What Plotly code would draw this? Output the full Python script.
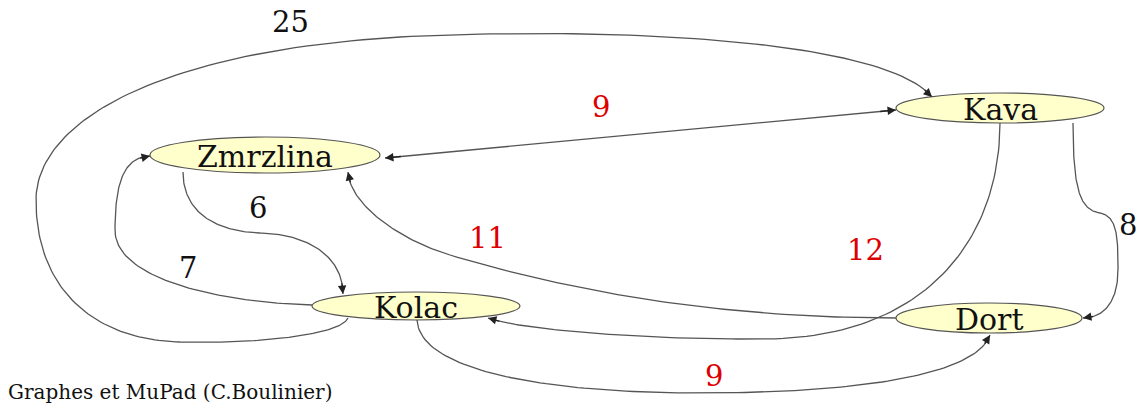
import numpy as np
import plotly.graph_objects as go

# ---- data ----
node_names = ["Zmrzlina", "Kava", "Kolac", "Dort"]
node_x = [265, 1000, 416, 989]
node_y = [155, 108, 306, 318]
node_rx = [115, 104, 104, 93]
node_ry = [18, 15, 14, 15]

edge_source = ["Kolac", "Zmrzlina", "Zmrzlina", "Kolac", "Dort", "Kava", "Kava", "Kolac"]
edge_target = ["Kava", "Kava", "Kolac", "Zmrzlina", "Zmrzlina", "Kolac", "Dort", "Dort"]
edge_weight = ["25", "9", "6", "7", "11", "12", "8", "9"]
edge_both_ways = [False, True, False, False, False, False, False, False]
edge_label_color = ["#111111", "#dd0000", "#111111", "#111111", "#dd0000", "#dd0000", "#111111", "#dd0000"]
edge_label_x = [290, 601, 258, 188, 487, 865, 1128, 714]
edge_label_y = [22, 107, 208, 268, 238, 250, 225, 376]

# cubic Bezier routes for each edge: P0, C1, C2, P1, C1, C2, P2, ...
edge_routes = [
    [(348, 318), (340, 336), (250, 344), (180, 342),
     (95, 340), (36, 290), (36, 200),
     (36, 125), (150, 52), (400, 37),
     (620, 26), (885, 40), (932, 97)],
    [(385, 158), (555, 142), (726, 126), (896, 110)],
    [(183, 172), (183, 215), (220, 232), (260, 233),
     (310, 234), (343, 258), (343, 294)],
    [(312, 305), (230, 303), (115, 282), (115, 230),
     (115, 180), (125, 157), (150, 156)],
    [(896, 318), (750, 318), (600, 300), (450, 255),
     (400, 240), (350, 205), (348, 172)],
    [(1000, 123), (1000, 235), (930, 337), (767, 339),
     (650, 340), (520, 330), (488, 318)],
    [(1073, 123), (1073, 190), (1080, 210), (1100, 213),
     (1118, 216), (1118, 240), (1118, 270),
     (1118, 300), (1105, 318), (1083, 318)],
    [(417, 320), (420, 372), (550, 393), (700, 393),
     (850, 393), (975, 377), (990, 335)],
]

footer_text = "Graphes et MuPad (C.Boulinier)"


def sample_route(pts, n=60):
    xs, ys = [], []
    t = np.linspace(0, 1, n)
    for i in range(0, len(pts) - 1, 3):
        p0, c1, c2, p3 = [np.array(p, dtype=float) for p in pts[i:i + 4]]
        seg = ((1 - t)[:, None] ** 3) * p0 + 3 * ((1 - t)[:, None] ** 2) * t[:, None] * c1 \
            + 3 * (1 - t)[:, None] * (t[:, None] ** 2) * c2 + (t[:, None] ** 3) * p3
        if xs:
            seg = seg[1:]
        xs.extend(seg[:, 0])
        ys.extend(seg[:, 1])
    return np.array(xs), np.array(ys)


def tail_point(xs, ys, back=11):
    tx, ty = xs[-1], ys[-1]
    for k in range(len(xs) - 2, -1, -1):
        if np.hypot(xs[k] - tx, ys[k] - ty) >= back:
            return xs[k], ys[k]
    return xs[0], ys[0]


fig = go.Figure()
annotations = []
line_col = "#555555"

for i, route in enumerate(edge_routes):
    xs, ys = sample_route(route)
    fig.add_trace(go.Scatter(x=xs, y=ys, mode="lines",
                             line=dict(color=line_col, width=1.3),
                             hoverinfo="skip", showlegend=False))
    ends = [(xs, ys)]
    if edge_both_ways[i]:
        ends.append((xs[::-1], ys[::-1]))
    for ex, ey in ends:
        axp, ayp = tail_point(ex, ey)
        annotations.append(dict(x=ex[-1], y=ey[-1], ax=axp, ay=ayp,
                                xref="x", yref="y", axref="x", ayref="y",
                                text="", showarrow=True, arrowhead=2,
                                arrowsize=1.3, arrowwidth=1.3, arrowcolor="#222222",
                                standoff=0, startstandoff=0))

shapes = []
for name, cx, cy, rx, ry in zip(node_names, node_x, node_y, node_rx, node_ry):
    shapes.append(dict(type="circle", xref="x", yref="y",
                       x0=cx - rx, x1=cx + rx, y0=cy - ry, y1=cy + ry,
                       fillcolor="#ffffcc", line=dict(color="#555555", width=1.2),
                       layer="above"))
    annotations.append(dict(x=cx, y=cy + 1, xref="x", yref="y", text=name,
                            showarrow=False,
                            font=dict(family="DejaVu Serif", size=30, color="#111111")))

for w, lx, ly, col in zip(edge_weight, edge_label_x, edge_label_y, edge_label_color):
    annotations.append(dict(x=lx, y=ly, xref="x", yref="y", text=w, showarrow=False,
                            font=dict(family="DejaVu Serif", size=29, color=col)))

annotations.append(dict(x=6, y=392, xref="x", yref="y", text=footer_text,
                        showarrow=False, xanchor="left", yanchor="middle",
                        font=dict(family="DejaVu Serif", size=20, color="#111111")))

fig.update_layout(
    width=1141, height=405,
    margin=dict(l=0, r=0, t=0, b=0),
    paper_bgcolor="white", plot_bgcolor="white",
    xaxis=dict(range=[0, 1141], visible=False, fixedrange=True),
    yaxis=dict(range=[405, 0], visible=False, fixedrange=True),
    shapes=shapes, annotations=annotations, showlegend=False,
)

fig.write_html("out.html", config={"displayModeBar": False},
               post_script="document.body.style.margin='0';document.body.style.overflow='hidden';")
